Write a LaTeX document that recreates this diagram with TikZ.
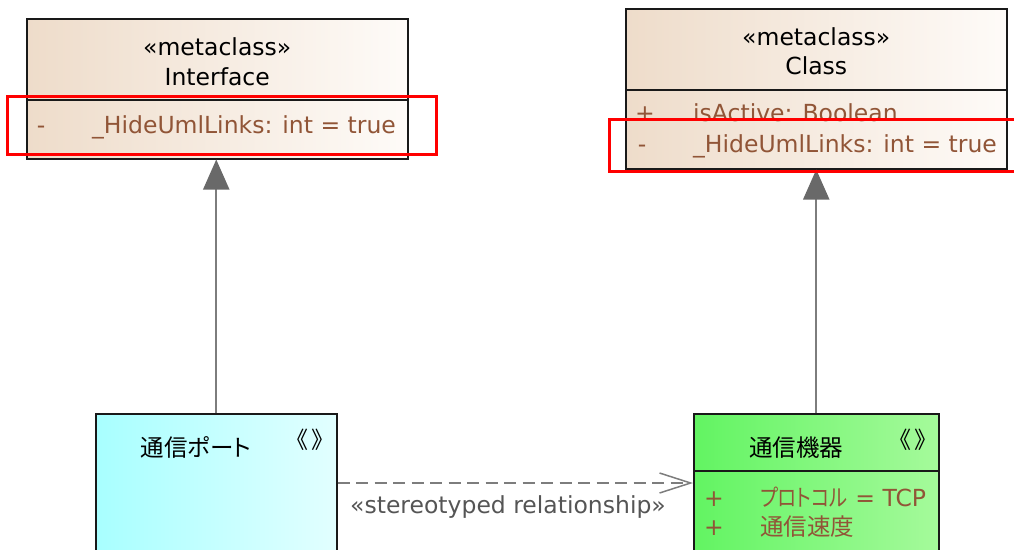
\documentclass[tikz,border=0pt]{standalone}
\usepackage{fontspec}
\setmainfont{DejaVu Sans}
\newfontfamily\jpfont[RawFeature=+palt]{Noto Sans CJK JP}
\usetikzlibrary{arrows.meta,positioning}

\definecolor{metaleft}{RGB}{238,220,202}
\definecolor{metaright}{RGB}{254,251,248}
\definecolor{portleft}{RGB}{168,255,255}
\definecolor{portright}{RGB}{226,255,255}
\definecolor{devleft}{RGB}{98,244,98}
\definecolor{devright}{RGB}{165,250,155}
\definecolor{attrbrown}{RGB}{145,85,55}
\definecolor{linkgray}{RGB}{125,125,125}
\definecolor{headgray}{RGB}{105,105,105}
\definecolor{labelgray}{RGB}{85,85,85}
\definecolor{boxline}{RGB}{25,25,25}

\begin{document}
\begin{tikzpicture}[x=1pt,y=-1pt,font=\fontsize{23.5}{28}\selectfont,
        umlbox/.style={draw=boxline,line width=1.5pt,anchor=north west,inner sep=0pt},
        divider/.style={draw=boxline,line width=1.5pt},
        heading/.style={anchor=base,inner sep=0pt},
        attr/.style={text=attrbrown,anchor=base west,inner sep=0pt},
        marker/.style={text=attrbrown,anchor=base,inner sep=0pt},
        brackets/.style={inner sep=0pt,font=\jpfont\fontsize{23}{26}\selectfont},
        highlight/.style={draw=red,line width=3pt},
        general/.style={draw=linkgray,line width=2pt,-{Triangle[length=30pt,width=26pt,color=headgray]}},
        depend/.style={draw=linkgray,line width=1.5pt,dash pattern=on 12pt off 6.5pt,-{Straight Barb[length=31pt,width=20pt]}}]
    \clip (0,0) rectangle (1014,549);

    % metaclasses
    \node[umlbox,minimum width=381pt,minimum height=140pt,left color=metaleft,right color=metaright] (interface) at (26,18) {};
    \draw[divider] (interface.west |- 0,100) -- (interface.east |- 0,100);
    \node[heading] (ifstereo) at (interface.north |- 0,55) {«metaclass»};
    \node[heading] (ifname) at (interface.north |- 0,85) {Interface};
    \node[marker] (ifvis) at (41,133) {-};
    \node[attr] (ifhide) at (92,133) {\_HideUmlLinks: int = true};

    \node[umlbox,minimum width=381pt,minimum height=160pt,left color=metaleft,right color=metaright] (klass) at (625,8) {};
    \draw[divider] (klass.west |- 0,90) -- (klass.east |- 0,90);
    \node[heading] (clstereo) at (klass.north |- 0,45) {«metaclass»};
    \node[heading] (clname) at (klass.north |- 0,74) {Class};
    \node[marker] (clvisa) at (645,121) {+};
    \node[attr] (clactive) at (693,121) {isActive: Boolean};
    \node[marker] (clvisb) at (642,152) {-};
    \node[attr] (clhide) at (693,152) {\_HideUmlLinks: int = true};

    % model elements
    \node[umlbox,minimum width=241pt,minimum height=200pt,left color=portleft,right color=portright] (port) at (95,413) {};
    \node[inner sep=0pt] (portname) at (196,447) {\jpfont 通信ポート};
    \node[brackets] (portst) at (310,440) {《\hspace{4pt}》};

    \node[umlbox,minimum width=245pt,minimum height=200pt,left color=devleft,right color=devright] (device) at (693,413) {};
    \draw[divider] (device.west |- 0,471) -- (device.east |- 0,471);
    \node[inner sep=0pt] (devname) at (796,448) {\jpfont 通信機器};
    \node[brackets] (devst) at (913,440) {《\hspace{4pt}》};
    \node[marker] (devvisa) at (714,506) {+};
    \node[attr] (devproto) at (760,506) {{\jpfont\scalebox{0.82}[1]{プロトコル}} = TCP};
    \node[marker] (devvisb) at (714,535) {+};
    \node[attr] (devspeed) at (760,535) {\jpfont 通信速度};

    % relationships
    \draw[general] (port.north) -- (port.north |- interface.south);
    \draw[general] (device.north) -- (device.north |- klass.south);
    \coordinate (deplevel) at (0,483);
    \draw[depend] (port.east |- deplevel) -- (device.west |- deplevel);
    \node[heading,text=labelgray] (deplabel) at (508,513) {«stereotyped relationship»};

    % highlighted attributes
    \draw[highlight] (7,96) rectangle (436,154);
    \draw[highlight] (609,119) rectangle (1020,171);
\end{tikzpicture}
\end{document}
